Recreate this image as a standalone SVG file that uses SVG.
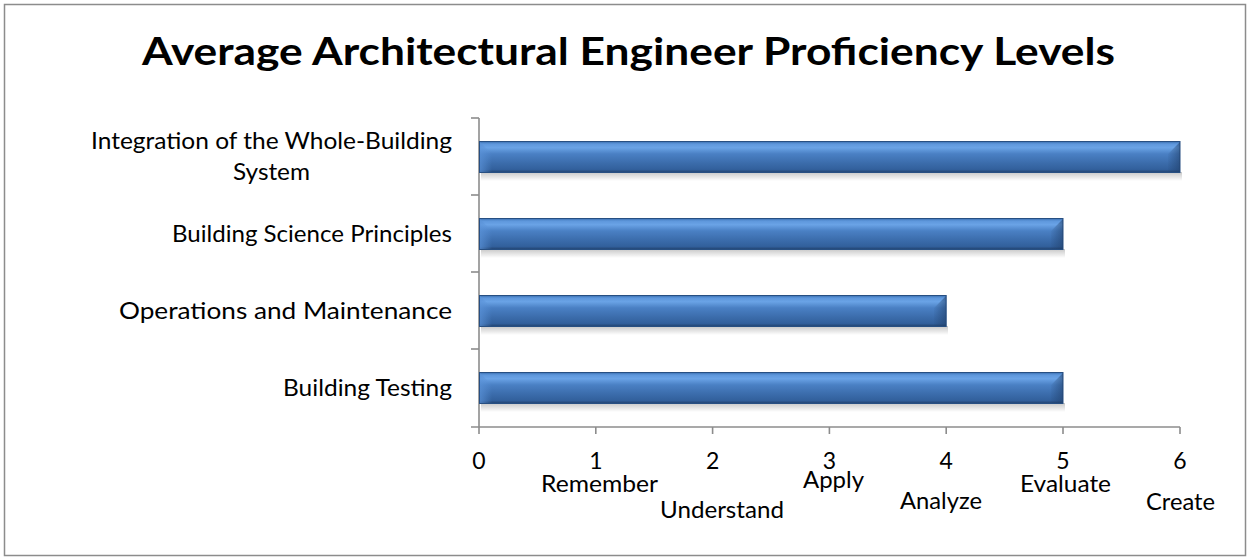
<svg xmlns="http://www.w3.org/2000/svg" width="1250" height="560" viewBox="0 0 1250 560">
<style>
text { font-family: Lato, "Liberation Sans", sans-serif; fill: #000; }
.title { font-size: 38px; font-weight: bold; }
.cat { font-size: 24px; text-anchor: end; }
.catc { font-size: 24px; text-anchor: middle; }
.num { font-size: 23px; text-anchor: middle; }
.lvl { font-size: 23px; text-anchor: middle; }
.axis { stroke: #8c8c8c; stroke-width: 1.6; fill: none; }
.bar { fill: url(#barGrad); stroke: #274f82; stroke-width: 1; }
.lb { fill: url(#leftBevel); }
.rb { fill: url(#rightBevel); }
.sh { fill: url(#shadowGrad); }
</style>
<defs>
<linearGradient id="barGrad" x1="0" y1="0" x2="0" y2="1">
<stop offset="0" stop-color="#3a6fb0"/>
<stop offset="0.08" stop-color="#5e97dc"/>
<stop offset="0.2" stop-color="#6aa3e6"/>
<stop offset="0.4" stop-color="#4a80c4"/>
<stop offset="0.7" stop-color="#3b6cab"/>
<stop offset="0.9" stop-color="#32609c"/>
<stop offset="1" stop-color="#21426e"/>
</linearGradient>
<linearGradient id="leftBevel" x1="0" y1="0" x2="1" y2="0">
<stop offset="0" stop-color="#5a92d8" stop-opacity="0.7"/>
<stop offset="1" stop-color="#5a92d8" stop-opacity="0"/>
</linearGradient>
<linearGradient id="rightBevel" x1="0" y1="0" x2="1" y2="0">
<stop offset="0" stop-color="#1f3d66" stop-opacity="0.05"/>
<stop offset="1" stop-color="#1f3d66" stop-opacity="0.55"/>
</linearGradient>
<linearGradient id="shadowGrad" x1="0" y1="0" x2="0" y2="1">
<stop offset="0" stop-color="#000" stop-opacity="0.22"/>
<stop offset="1" stop-color="#000" stop-opacity="0"/>
</linearGradient>
</defs>

<rect x="4.5" y="4.5" width="1241" height="551" fill="#fff" stroke="#8c8c8c" stroke-width="1.5"/>

<g id="title">
<text class="title" x="628.5" y="65" text-anchor="middle" textLength="973" lengthAdjust="spacingAndGlyphs">Average Architectural Engineer Proficiency Levels</text>
</g>

<g id="axes">
<line class="axis" x1="479" y1="118" x2="479" y2="427"/>
<line class="axis" x1="471" y1="427" x2="1180" y2="427"/>
<line class="axis" x1="471" y1="118" x2="479" y2="118"/>
<line class="axis" x1="471" y1="195" x2="479" y2="195"/>
<line class="axis" x1="471" y1="272" x2="479" y2="272"/>
<line class="axis" x1="471" y1="349" x2="479" y2="349"/>
<line class="axis" x1="479" y1="427" x2="479" y2="434"/>
<line class="axis" x1="595.8" y1="427" x2="595.8" y2="434"/>
<line class="axis" x1="712.6" y1="427" x2="712.6" y2="434"/>
<line class="axis" x1="829.4" y1="427" x2="829.4" y2="434"/>
<line class="axis" x1="946.2" y1="427" x2="946.2" y2="434"/>
<line class="axis" x1="1063" y1="427" x2="1063" y2="434"/>
<line class="axis" x1="1180" y1="427" x2="1180" y2="434"/>
</g>

<g id="bar-integration">
<rect class="sh" x="481" y="172" width="701" height="9"/>
<rect class="bar" x="479.5" y="141.5" width="700.5" height="31"/>
<polygon class="lb" points="480,142 492,154 492,172 480,172"/>
<polygon class="rb" points="1168,154 1180,142 1180,172 1168,172"/>
</g>
<g id="bar-science">
<rect class="sh" x="481" y="249" width="584" height="9"/>
<rect class="bar" x="479.5" y="218.5" width="583.5" height="31"/>
<polygon class="lb" points="480,219 492,231 492,249 480,249"/>
<polygon class="rb" points="1051,231 1063,219 1063,249 1051,249"/>
</g>
<g id="bar-operations">
<rect class="sh" x="481" y="326" width="467" height="9"/>
<rect class="bar" x="479.5" y="295.5" width="466.7" height="31"/>
<polygon class="lb" points="480,296 492,308 492,326 480,326"/>
<polygon class="rb" points="934,308 946,296 946,326 934,326"/>
</g>
<g id="bar-testing">
<rect class="sh" x="481" y="403" width="584" height="9"/>
<rect class="bar" x="479.5" y="372.5" width="583.5" height="31"/>
<polygon class="lb" points="480,373 492,385 492,403 480,403"/>
<polygon class="rb" points="1051,385 1063,373 1063,403 1051,403"/>
</g>

<g id="category-labels">
<text class="cat" x="452" y="149" textLength="361" lengthAdjust="spacingAndGlyphs">Integration of the Whole-Building</text>
<text class="catc" x="271.5" y="180" textLength="77" lengthAdjust="spacingAndGlyphs">System</text>
<text class="cat" x="452" y="241.5" textLength="280" lengthAdjust="spacingAndGlyphs">Building Science Principles</text>
<text class="cat" x="452" y="318.5" textLength="333" lengthAdjust="spacingAndGlyphs">Operations and Maintenance</text>
<text class="cat" x="452" y="395.5" textLength="169" lengthAdjust="spacingAndGlyphs">Building Testing</text>
</g>

<g id="x-labels">
<text class="num" x="479" y="469">0</text>
<text class="num" x="595.8" y="469">1</text>
<text class="num" x="712.6" y="469">2</text>
<text class="num" x="829.4" y="469">3</text>
<text class="num" x="946.2" y="469">4</text>
<text class="num" x="1063" y="469">5</text>
<text class="num" x="1180" y="469">6</text>
<text class="lvl" x="599.5" y="492" textLength="117" lengthAdjust="spacingAndGlyphs">Remember</text>
<text class="lvl" x="722" y="518" textLength="124" lengthAdjust="spacingAndGlyphs">Understand</text>
<text class="lvl" x="833.5" y="488" textLength="61" lengthAdjust="spacingAndGlyphs">Apply</text>
<text class="lvl" x="941" y="509" textLength="82" lengthAdjust="spacingAndGlyphs">Analyze</text>
<text class="lvl" x="1065.5" y="492" textLength="91" lengthAdjust="spacingAndGlyphs">Evaluate</text>
<text class="lvl" x="1180.5" y="510" textLength="69" lengthAdjust="spacingAndGlyphs">Create</text>
</g>
</svg>
